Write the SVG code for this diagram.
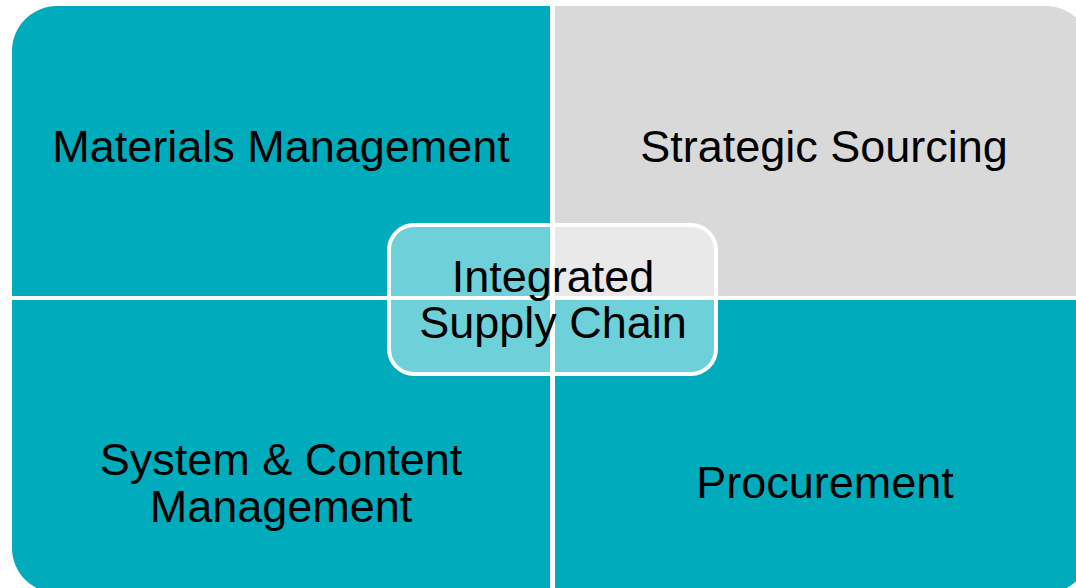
<svg xmlns="http://www.w3.org/2000/svg" width="1076" height="588" viewBox="0 0 1076 588">
  <style>
    .teal { fill: #00acbb; }
    .gray { fill: #d9d9d9; }
    .lbl { font-family: "Liberation Sans", Arial, sans-serif; font-size: 45px; fill: #000000; text-anchor: middle; }
  </style>
  <rect width="1076" height="588" fill="#ffffff"/>
  <g id="materials-management">
    <path class="teal" d="M12,51 A45,45 0 0 1 57,6 L550,6 L550,296 L12,296 Z"/>
    <text class="lbl" x="281" y="162">Materials Management</text>
  </g>
  <g id="strategic-sourcing">
    <path class="gray" d="M555,6 L1046,6 A45,45 0 0 1 1091,51 L1091,296 L555,296 Z"/>
    <text class="lbl" x="824" y="162">Strategic Sourcing</text>
  </g>
  <g id="system-content-management">
    <path class="teal" d="M12,300 L550,300 L550,593 L57,593 A45,45 0 0 1 12,548 Z"/>
    <text class="lbl" x="281" y="475">System &amp; Content</text>
    <text class="lbl" x="281" y="522">Management</text>
  </g>
  <g id="procurement">
    <path class="teal" d="M555,300 L1091,300 L1091,548 A45,45 0 0 1 1046,593 L555,593 Z"/>
    <text class="lbl" x="825" y="498">Procurement</text>
  </g>
  <g id="integrated-supply-chain">
    <rect x="389" y="225" width="327" height="149" rx="25" ry="25" fill="#ffffff" fill-opacity="0.43" stroke="#ffffff" stroke-width="4"/>
    <text class="lbl" x="553" y="292">Integrated</text>
    <text class="lbl" x="553" y="338">Supply Chain</text>
  </g>
  <g id="connectors"/>
</svg>
